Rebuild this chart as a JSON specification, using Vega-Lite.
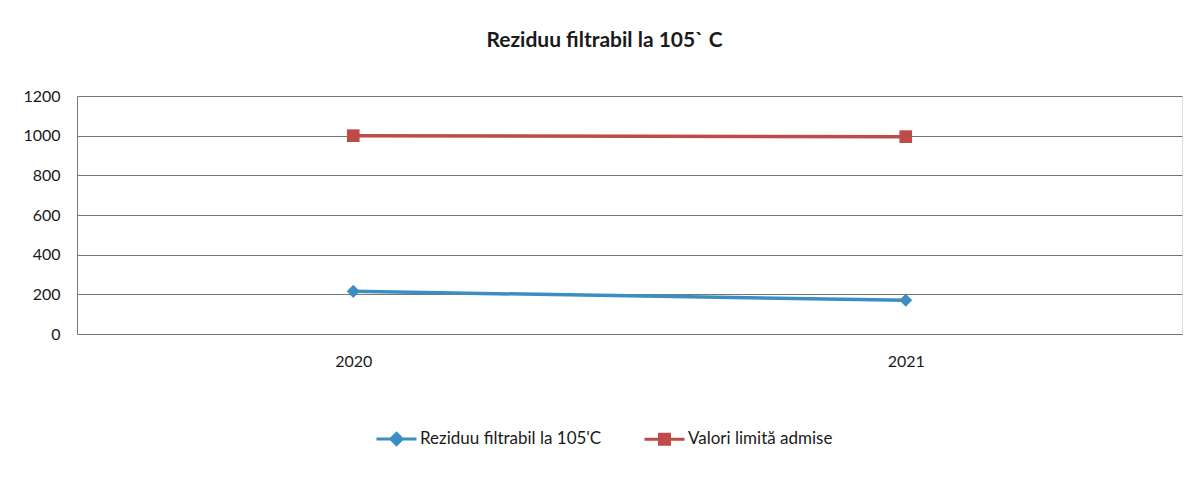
{
  "$schema": "https://vega.github.io/schema/vega-lite/v6.json",
  "width": 1105,
  "height": 238,
  "autosize": {"type": "none"},
  "padding": {"left": 77, "top": 96, "right": 21, "bottom": 144},
  "background": "white",
  "title": {
    "text": "Reziduu filtrabil la 105` C",
    "font": "Lato",
    "fontSize": 21,
    "fontWeight": "bold",
    "color": "#1a1a1a",
    "anchor": "middle",
    "offset": 37,
    "dx": -25
  },
  "data": {
    "values": [
      {"year": "2020", "series": "Reziduu filtrabil la 105'C", "value": 215},
      {"year": "2021", "series": "Reziduu filtrabil la 105'C", "value": 170},
      {"year": "2020", "series": "Valori limită admise", "value": 1000},
      {"year": "2021", "series": "Valori limită admise", "value": 995}
    ]
  },
  "encoding": {
    "x": {
      "field": "year",
      "type": "ordinal",
      "scale": {"paddingInner": 0, "paddingOuter": 0},
      "axis": {
        "title": null,
        "labelAngle": 0,
        "labelFont": "Lato",
        "labelFontSize": 16,
        "labelColor": "#1a1a1a",
        "labelPadding": 19,
        "ticks": false,
        "domain": true,
        "domainColor": "#777777",
        "grid": false
      }
    },
    "y": {
      "field": "value",
      "type": "quantitative",
      "scale": {"domain": [0, 1200]},
      "axis": {
        "title": null,
        "values": [0, 200, 400, 600, 800, 1000, 1200],
        "format": "d",
        "labelFont": "Lato",
        "labelFontSize": 16,
        "labelColor": "#1a1a1a",
        "labelPadding": 17,
        "ticks": false,
        "domain": true,
        "domainColor": "#777777",
        "grid": true,
        "gridColor": "#777777",
        "gridWidth": 1
      }
    },
    "color": {
      "field": "series",
      "type": "nominal",
      "scale": {
        "domain": ["Reziduu filtrabil la 105'C", "Valori limită admise"],
        "range": ["#3b8ec3", "#be4b48"]
      },
      "legend": {
        "title": null,
        "orient": "none",
        "direction": "horizontal",
        "legendX": 298,
        "legendY": 321,
        "symbolSize": 1600,
        "symbolStrokeWidth": 3,
        "labelFont": "Lato",
        "labelFontSize": 17,
        "labelColor": "#1a1a1a",
        "labelLimit": 0,
        "labelOffset": 2,
        "columnPadding": 36,
        "encode": {
          "symbols": {
            "update": {
              "fill": {"scale": "color", "field": "value"},
              "shape": {"signal": "datum.value === 'Valori limită admise' ? 'M-1,0L1,0M-0.25,-0.25L0.25,-0.25L0.25,0.25L-0.25,0.25Z' : 'M-1,0L1,0M0,-0.28L0.28,0L0,0.28L-0.28,0Z'"}
            }
          }
        }
      }
    }
  },
  "layer": [
    {
      "mark": {"type": "line", "strokeWidth": 3.5}
    },
    {
      "transform": [{"filter": "datum.series === \"Reziduu filtrabil la 105'C\""}],
      "mark": {"type": "point", "shape": "diamond", "filled": true, "opacity": 1, "size": 170}
    },
    {
      "transform": [{"filter": "datum.series === 'Valori limită admise'"}],
      "mark": {"type": "point", "shape": "square", "filled": true, "opacity": 1, "size": 160}
    }
  ]
}
